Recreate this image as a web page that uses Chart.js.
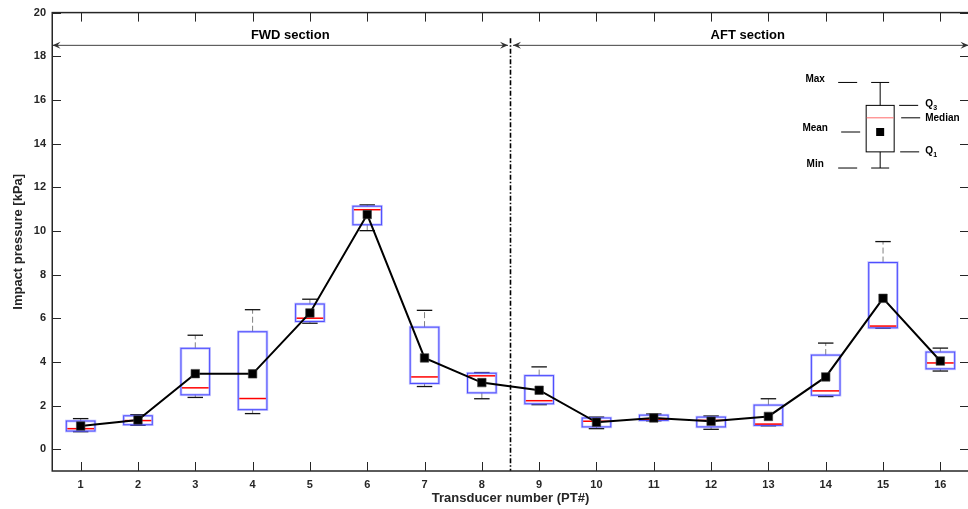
<!DOCTYPE html>
<html><head><meta charset="utf-8">
<script src="https://cdn.jsdelivr.net/npm/chart.js@4/dist/chart.umd.min.js"></script>
<style>
html,body{margin:0;padding:0;background:#fff;overflow:hidden}
#wrap{width:968px;height:509px;overflow:hidden;position:relative}
canvas{display:block}
</style>
</head><body><div id="wrap"><canvas id="c"></canvas></div>
<script>
// ---- data ----
const transducers = [1,2,3,4,5,6,7,8,9,10,11,12,13,14,15,16];
const maxVals    = [1.40,1.58,5.22,6.39,6.87,11.19,6.36,3.51,3.77,1.47,1.61,1.52,2.31,4.86,9.51,4.63];
const q3Vals     = [1.29,1.53,4.62,5.38,6.65,11.13,5.59,3.48,3.37,1.43,1.56,1.47,2.02,4.31,8.55,4.45];
const medianVals = [0.94,1.31,2.81,2.32,6.00,10.97,3.31,3.36,2.22,1.28,1.37,1.32,1.15,2.67,5.64,3.95];
const meanVals   = [1.06,1.34,3.46,3.45,6.24,10.75,4.18,3.05,2.70,1.23,1.43,1.28,1.50,3.31,6.91,4.04];
const q1Vals     = [0.83,1.12,2.49,1.81,5.85,10.28,3.01,2.58,2.08,1.02,1.32,1.02,1.09,2.47,5.56,3.68];
const minVals    = [0.80,1.09,2.37,1.63,5.77,10.01,2.87,2.31,2.04,0.94,1.30,0.91,1.07,2.41,5.54,3.58];
const yTicks     = [0,2,4,6,8,10,12,14,16,18,20];
const sectionNames = ['FWD section','AFT section'];
const sectionBounds = [0.5, 8.5, 16.5];
const sectionArrowLevel = 18.5;
// schematic key box (values on the pressure axis)
const keyX = 14.95;
const keyStats = {max:16.8, q3:15.75, median:15.18, mean:14.53, q1:13.62, min:12.88};

const W = 976, H = 509;
const cv = document.getElementById('c');
cv.width = W; cv.height = H; cv.style.width = W+'px'; cv.style.height = H+'px';

const FONT = '"Liberation Sans", Arial, sans-serif';
const TXT = '#262626';

function seg(ctx,x1,y1,x2,y2){ctx.beginPath();ctx.moveTo(x1,y1);ctx.lineTo(x2,y2);ctx.stroke();}
function head(ctx,xt,y,dir){
  ctx.beginPath();
  ctx.moveTo(xt,y);
  ctx.lineTo(xt-dir*8,y-3.5);
  ctx.lineTo(xt-dir*5,y);
  ctx.lineTo(xt-dir*8,y+3.5);
  ctx.closePath();ctx.fill();
}

const boxPlugin = {
  id:'boxes',
  beforeDatasetsDraw(chart){
    const {ctx, scales:{x,y}} = chart;
    const u = x.getPixelForValue(1)-x.getPixelForValue(0);
    const half = 0.25*u, cap = 0.135*u;
    ctx.save();
    transducers.forEach((t,i)=>{
      const cx = x.getPixelForValue(t);
      const pMax=y.getPixelForValue(maxVals[i]), pQ3=y.getPixelForValue(q3Vals[i]);
      const pMed=y.getPixelForValue(medianVals[i]), pQ1=y.getPixelForValue(q1Vals[i]);
      const pMin=y.getPixelForValue(minVals[i]);
      ctx.strokeStyle='#808080';ctx.lineWidth=1;ctx.setLineDash([6,3]);
      seg(ctx,cx,pQ3,cx,pMax);seg(ctx,cx,pQ1,cx,pMin);
      ctx.setLineDash([]);
      ctx.strokeStyle='#111';ctx.lineWidth=1.3;
      seg(ctx,cx-cap,pMax,cx+cap,pMax);seg(ctx,cx-cap,pMin,cx+cap,pMin);
      ctx.strokeStyle='rgba(120,120,255,0.45)';ctx.lineWidth=2.6;
      ctx.strokeRect(cx-half,pQ3,2*half,pQ1-pQ3);
      ctx.strokeStyle='#4d4dff';ctx.lineWidth=1;
      ctx.strokeRect(cx-half,pQ3,2*half,pQ1-pQ3);
      ctx.strokeStyle='#ff0000';ctx.lineWidth=1.5;
      seg(ctx,cx-half+1,pMed,cx+half-1,pMed);
    });
    ctx.restore();
  },
  afterDatasetsDraw(chart){
    const {ctx, chartArea:a, scales:{x,y}} = chart;
    ctx.save();
    // section divider
    const xd = x.getPixelForValue(sectionBounds[1]);
    const ya = y.getPixelForValue(sectionArrowLevel);
    ctx.strokeStyle='#000';ctx.lineWidth=1.6;ctx.setLineDash([5,2,1.5,2]);
    seg(ctx,xd,ya-7,xd,a.bottom);
    ctx.setLineDash([]);
    // section arrows
    ctx.strokeStyle='#404040';ctx.fillStyle='#303030';ctx.lineWidth=1;
    for(let s=0;s<2;s++){
      const x1=x.getPixelForValue(sectionBounds[s])+(s?2.5:0.5);
      const x2=x.getPixelForValue(sectionBounds[s+1])-(s?0.5:2.5);
      seg(ctx,x1,ya,x2,ya);head(ctx,x1,ya,-1);head(ctx,x2,ya,1);
      ctx.fillStyle='#000';ctx.font='bold 13px '+FONT;ctx.textAlign='center';ctx.textBaseline='middle';
      ctx.fillText(sectionNames[s],(x1+x2)/2+(s?7:10),ya-10);
      ctx.fillStyle='#303030';
    }
    // key schematic
    const kx=x.getPixelForValue(keyX);
    const k={};for(const n in keyStats)k[n]=y.getPixelForValue(keyStats[n]);
    ctx.strokeStyle='#000';ctx.lineWidth=1;
    seg(ctx,kx,k.q3,kx,k.max);seg(ctx,kx,k.q1,kx,k.min);
    seg(ctx,kx-9,k.max,kx+9,k.max);seg(ctx,kx-9,k.min,kx+9,k.min);
    ctx.strokeRect(kx-14,k.q3,28,k.q1-k.q3);
    ctx.strokeStyle='#ff6a6a';seg(ctx,kx-13.5,k.median,kx+13.5,k.median);
    ctx.fillStyle='#000';ctx.fillRect(kx-4,k.mean-4,8,8);
    ctx.strokeStyle='#000';
    seg(ctx,kx-42,k.max,kx-23,k.max);
    seg(ctx,kx-39,k.mean,kx-20,k.mean);
    seg(ctx,kx-42,k.min,kx-23,k.min);
    seg(ctx,kx+19,k.q3,kx+38,k.q3);
    seg(ctx,kx+21,k.median,kx+40,k.median);
    seg(ctx,kx+20,k.q1,kx+39,k.q1);
    ctx.font='bold 10px '+FONT;ctx.textBaseline='middle';ctx.textAlign='center';
    ctx.fillText('Max',kx-65,k.max-3);
    ctx.fillText('Mean',kx-65,k.mean-4);
    ctx.fillText('Min',kx-65,k.min-4);
    ctx.textAlign='left';
    ctx.fillText('Q',kx+45,k.q3-1);ctx.font='bold 7px '+FONT;ctx.fillText('3',kx+53,k.q3+3);
    ctx.font='bold 10px '+FONT;
    ctx.fillText('Median',kx+45,k.median);
    ctx.fillText('Q',kx+45,k.q1-1);ctx.font='bold 7px '+FONT;ctx.fillText('1',kx+53,k.q1+3);
    ctx.restore();
  },
  afterDraw(chart){
    const {ctx, chartArea:a, scales:{x,y}} = chart;
    ctx.save();
    ctx.strokeStyle=TXT;ctx.lineWidth=1.5;
    ctx.strokeRect(a.left+0.25,a.top,a.right-a.left,a.bottom-a.top);
    ctx.lineWidth=1;
    const L=9;
    yTicks.forEach(v=>{const p=Math.round(y.getPixelForValue(v))+0.5;
      seg(ctx,a.left,p,a.left+L,p);seg(ctx,a.right-L,p,a.right,p);});
    transducers.forEach(v=>{const p=Math.round(x.getPixelForValue(v))+0.5;
      seg(ctx,p,a.bottom,p,a.bottom-L);seg(ctx,p,a.top,p,a.top+L);});
    ctx.restore();
  }
};

new Chart(cv,{
  type:'line',
  data:{datasets:[{
    data: transducers.map((t,i)=>({x:t,y:meanVals[i]})),
    borderColor:'#000',borderWidth:2,
    pointStyle:'rect',pointRadius:6,pointHoverRadius:6,
    pointBackgroundColor:'#000',pointBorderColor:'rgba(60,60,60,0.6)',pointBorderWidth:1
  }]},
  options:{
    responsive:false,animation:false,devicePixelRatio:1,
    layout:{padding:{left:0,right:4,top:11,bottom:0}},
    plugins:{legend:{display:false},tooltip:{enabled:false}},
    scales:{
      x:{type:'linear',min:0.5,max:16.5,
        afterBuildTicks:s=>{s.ticks=transducers.map(v=>({value:v}));},
        afterFit:s=>{s.height=38;},
        grid:{display:false,drawTicks:false},border:{display:false},
        ticks:{font:{family:FONT,size:11,weight:'bold'},color:TXT,padding:7,maxRotation:0,autoSkip:false},
        title:{display:true,text:'Transducer number (PT#)',font:{family:FONT,size:13,weight:'bold'},color:TXT,padding:{top:0,bottom:3}}
      },
      y:{type:'linear',min:-1,max:20,
        afterBuildTicks:s=>{s.ticks=yTicks.map(v=>({value:v}));},
        afterFit:s=>{s.width=52;},
        grid:{display:false,drawTicks:false},border:{display:false},
        ticks:{font:{family:FONT,size:11,weight:'bold'},color:TXT,padding:6},
        title:{display:true,text:'Impact pressure [kPa]',font:{family:FONT,size:13,weight:'bold'},color:TXT,padding:{top:11,bottom:0}}
      }
    }
  },
  plugins:[boxPlugin]
});
</script>
</body></html>
